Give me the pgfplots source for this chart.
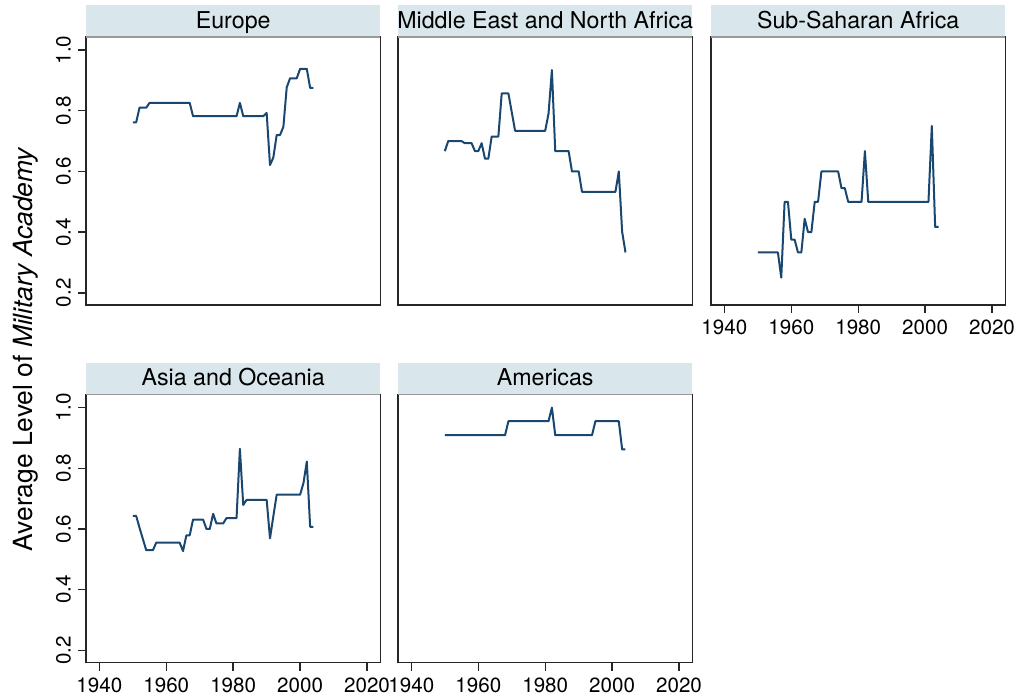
\documentclass[border=0pt]{standalone}
\usepackage{pgfplots}
\pgfplotsset{compat=1.18}
\usepackage{fontspec}
\setmainfont{TeX Gyre Heros}
\definecolor{statanavy}{RGB}{26,71,111}
\definecolor{stripcol}{RGB}{217,230,235}

\pgfplotsset{
  panel/.style={
    scale only axis, width=147.2pt, height=134pt,
    xmin=1936, xmax=2024, ymin=0.16, ymax=1.043,
    axis line style={black!85, line width=0.7pt},
    tick style={black!85, line width=0.7pt},
    major tick length=4pt, tick align=outside,
    xtick pos=bottom, ytick pos=left,
    /pgf/number format/assume math mode=true,
    xticklabel style={font=\fontsize{10.3}{12}\selectfont, /pgf/number format/set thousands separator={}},
    yticklabel style={font=\fontsize{10.3}{12}\selectfont, rotate=90, anchor=south,
      /pgf/number format/fixed, /pgf/number format/fixed zerofill, /pgf/number format/precision=1},
    cycle list={{statanavy}},
    every axis plot/.append style={line width=1pt, line join=round},
    no markers,
    clip=false,
    after end axis/.append code={
      \fill[stripcol] (rel axis cs:0,1) rectangle ([yshift=16pt]rel axis cs:1,1);
      \draw[black!40, line width=0.6pt] (rel axis cs:0,1) -- (rel axis cs:1,1);
      \node[anchor=base, font=\fontsize{11.6}{14}\selectfont, inner sep=0pt] at ([yshift=4.35pt]rel axis cs:0.5,1) {#1};
    },
  },
  xon/.style={xtick={1940,1960,1980,2000,2020}},
  xoff/.style={xtick=\empty},
  yon/.style={ytick={0.2,0.4,0.6,0.8,1.0}},
  yoff/.style={ytick=\empty},
}

\begin{document}
\begin{tikzpicture}
\useasboundingbox (0,0) rectangle (510.5pt,350pt);

% Europe
\begin{axis}[panel={Europe}, xoff, yon, at={(43pt,197.5pt)}, anchor=south west]
\addplot coordinates {
(1950,0.762) (1951,0.762) (1952,0.810) (1954,0.810) (1955,0.826) (1967,0.826)
(1968,0.782) (1981,0.782) (1982,0.826) (1983,0.782) (1989,0.782) (1990,0.793)
(1991,0.621) (1992,0.646) (1993,0.720) (1994,0.720) (1995,0.747) (1996,0.877)
(1997,0.907) (1999,0.907) (2000,0.938) (2002,0.938) (2003,0.875) (2004,0.875)
};
\end{axis}

% Middle East and North Africa
\begin{axis}[panel={Middle East and North Africa}, xoff, yoff, at={(199pt,197.5pt)}, anchor=south west]
\addplot coordinates {
(1950,0.667) (1951,0.700) (1955,0.700) (1956,0.693) (1958,0.693) (1959,0.667)
(1960,0.667) (1961,0.693) (1962,0.642) (1963,0.642) (1964,0.715) (1966,0.715)
(1967,0.857) (1969,0.857) (1971,0.734) (1980,0.734) (1981,0.791) (1982,0.934)
(1983,0.667) (1987,0.667) (1988,0.600) (1990,0.600) (1991,0.533) (2001,0.533)
(2002,0.600) (2003,0.401) (2004,0.333)
};
\end{axis}

% Sub-Saharan Africa
\begin{axis}[panel={Sub-Saharan Africa}, xon, yoff, at={(355.5pt,197.5pt)}, anchor=south west]
\addplot coordinates {
(1950,0.333) (1956,0.333) (1957,0.250) (1958,0.500) (1959,0.500) (1960,0.375)
(1961,0.375) (1962,0.333) (1963,0.333) (1964,0.444) (1965,0.400) (1966,0.400)
(1967,0.500) (1968,0.500) (1969,0.600) (1974,0.600) (1975,0.545) (1976,0.545)
(1977,0.500) (1981,0.500) (1982,0.667) (1983,0.500) (2001,0.500) (2002,0.750)
(2003,0.417) (2004,0.417)
};
\end{axis}

% Asia and Oceania
\begin{axis}[panel={Asia and Oceania}, xon, yon, at={(43pt,18.75pt)}, anchor=south west]
\addplot coordinates {
(1950,0.643) (1951,0.643) (1952,0.604) (1954,0.530) (1956,0.530) (1957,0.555)
(1964,0.555) (1965,0.527) (1966,0.579) (1967,0.579) (1968,0.631) (1971,0.631)
(1972,0.600) (1973,0.600) (1974,0.650) (1975,0.618) (1977,0.618) (1978,0.636)
(1981,0.636) (1982,0.864) (1983,0.679) (1984,0.696) (1990,0.696) (1991,0.569)
(1992,0.642) (1993,0.713) (2000,0.713) (2001,0.751) (2002,0.822) (2003,0.607)
(2004,0.607)
};
\end{axis}

% Americas
\begin{axis}[panel={Americas}, xon, yoff, at={(199pt,18.75pt)}, anchor=south west]
\addplot coordinates {
(1950,0.909) (1968,0.909) (1969,0.955) (1981,0.955) (1982,1.000) (1983,0.909)
(1994,0.909) (1995,0.955) (2002,0.955) (2003,0.862) (2004,0.862)
};
\end{axis}

\node[rotate=90, anchor=base, font=\fontsize{13.2}{15}\selectfont, inner sep=0pt]
  at (16.5pt,175.5pt) {Average Level of \textit{Military Academy}};
\end{tikzpicture}
\end{document}
